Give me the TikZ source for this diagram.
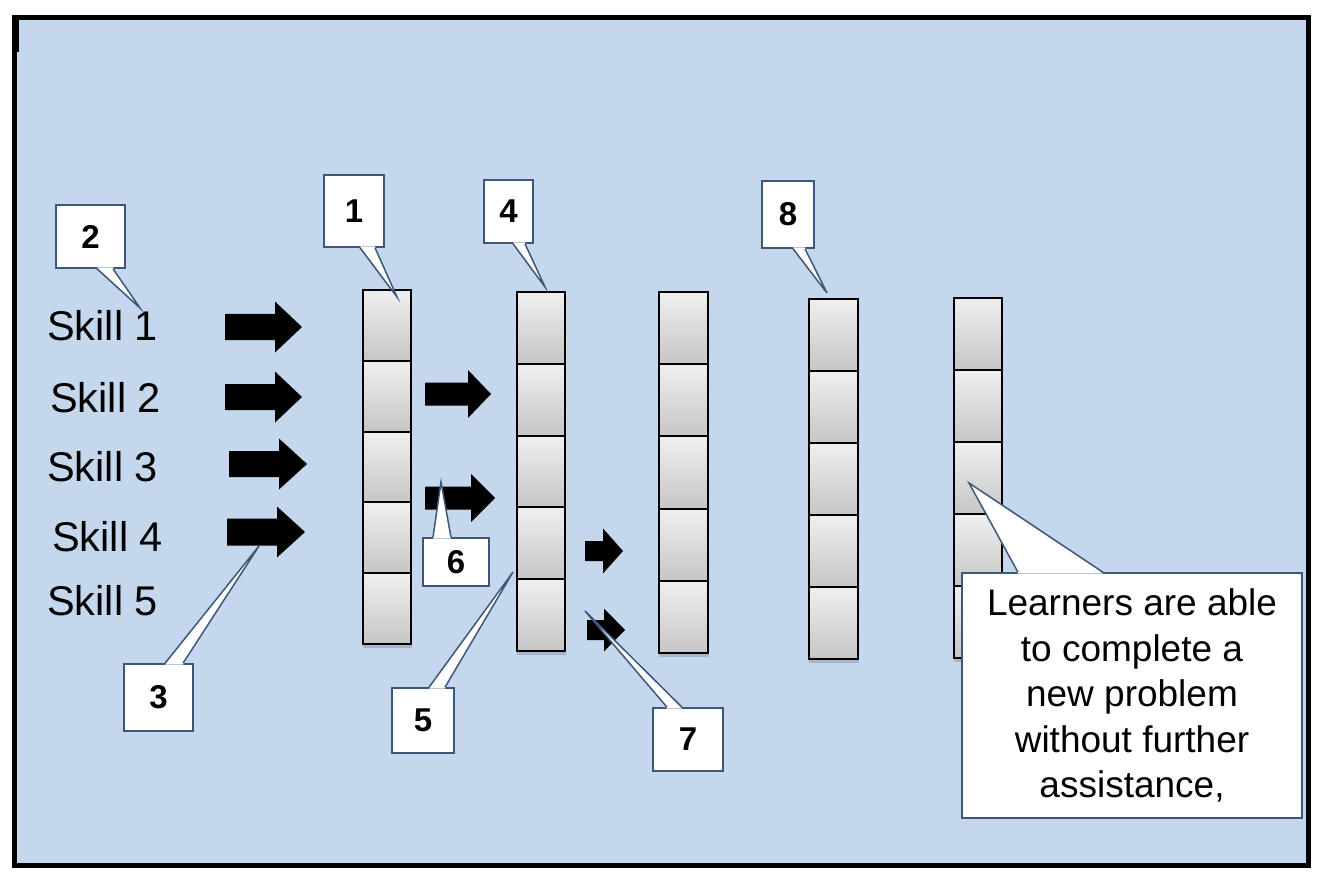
\documentclass[tikz,border=0pt]{standalone}
\usepackage{fontspec}
\setmainfont{Liberation Sans}
\usetikzlibrary{calc}
\definecolor{bgblue}{RGB}{196,215,236}
\definecolor{cbord}{RGB}{62,86,122}
\tikzset{
  cell/.style={draw=black, line width=2pt, top color=gray!12, bottom color=gray!45, inner sep=0pt},
  nbox/.style={draw=cbord, line width=1.5pt, fill=white, inner sep=0pt,
    font=\fontsize{33}{33}\selectfont\bfseries},
  bigbox/.style={draw=cbord, line width=1.5pt, fill=white, inner sep=0pt, align=center,
    font=\fontsize{37}{45.5}\selectfont},
  skill/.style={inner sep=0pt, font=\fontsize{41.5}{41.5}\selectfont},
  ptrline/.style={draw=cbord, line width=1.5pt, line join=miter},
}
% pointer on bottom edge of node #1, base x from #2 to #3, tip #4
\newcommand\ptrS[4]{%
  \fill[white] ($(#2,0 |- #1.south)+(0,-1.3)$) -- (#4) -- ($(#3,0 |- #1.south)+(0,-1.3)$) -- cycle;
  \draw[ptrline] (#2,0 |- #1.south) -- (#4) -- (#3,0 |- #1.south);}
% pointer on top edge
\newcommand\ptrN[4]{%
  \fill[white] ($(#2,0 |- #1.north)+(0,1.3)$) -- (#4) -- ($(#3,0 |- #1.north)+(0,1.3)$) -- cycle;
  \draw[ptrline] (#2,0 |- #1.north) -- (#4) -- (#3,0 |- #1.north);}
% block arrow: x0, yc, xhead, xtip, shaft half, head half
\newcommand\blockarr[6]{%
  \fill (#1,{#2-#5}) -- (#3,{#2-#5}) -- (#3,{#2-#6}) -- (#4,#2) -- (#3,{#2+#6}) -- (#3,{#2+#5}) -- (#1,{#2+#5}) -- cycle;}
\begin{document}
\begin{tikzpicture}[x=1pt,y=-1pt]
\useasboundingbox (0,0) rectangle (1324,882);
\fill[white] (0,0) rectangle (1324,882);
\draw[line width=5pt, fill=bgblue] (14,18) rectangle (1308,865);
\fill (11.5,15.5) rectangle (18.5,52);

% columns of cells
\foreach \n/\xl/\yt/\h/\w in {1/362/289/70.8/48, 2/516/291/71.8/48, 3/658/291/72.2/49, 4/808/298/72/49, 5/953/297/72/48}{
  \fill[black, opacity=0.15] ({\xl+1},{\yt+5*\h}) rectangle ({\xl+\w+2},{\yt+5*\h+5});
  \foreach \i in {1,...,5}{
    \node[cell, minimum width=\w, minimum height=\h, anchor=north west] (k\n\i) at (\xl,{\yt+(\i-1)*\h}) {};
  }
}

% skill labels
\node[skill, anchor=base west] (s1) at (47,341) {Skill 1};
\node[skill, anchor=base west] (s2) at (50,412) {Skill 2};
\node[skill, anchor=base west] (s3) at (47,481) {Skill 3};
\node[skill, anchor=base west] (s4) at (52,551) {Skill 4};
\node[skill, anchor=base west] (s5) at (47,615) {Skill 5};

% block arrows
\blockarr{225}{327}{275}{302}{13}{25.5}
\blockarr{225}{397}{275}{302}{13}{25.5}
\blockarr{229}{464}{279}{307}{13}{25.5}
\blockarr{227}{532}{277}{305}{13.5}{25.5}
\blockarr{425}{394}{468}{491}{11.5}{24}
\blockarr{425}{498}{471}{495}{11.5}{24}
\blockarr{585}{551}{603}{623}{10}{22.5}
\blockarr{587}{630}{604}{625}{10}{21.5}

% pointer tips
\coordinate (t2) at (140,308);
\coordinate (t1) at (397,297);
\coordinate (t4) at (545,287);
\coordinate (t8) at (827,293);
\coordinate (t6) at (441,482);
\coordinate (t5) at (513,572);
\coordinate (t3) at (259,546);
\coordinate (t7) at (585,611);
\coordinate (tb) at (969,483);

% callouts
\node[nbox, minimum width=69, minimum height=63] (c2) at (90.5,236.5) {2};
\ptrS{c2}{97}{113}{t2}
\node[nbox, minimum width=60, minimum height=72] (c1) at (354,211) {1};
\ptrS{c1}{360}{375}{t1}
\node[nbox, minimum width=49, minimum height=63] (c4) at (508.5,211.5) {4};
\ptrS{c4}{513}{525}{t4}
\node[nbox, minimum width=52, minimum height=67] (c8) at (788,214.5) {8};
\ptrS{c8}{793}{805}{t8}
\node[nbox, minimum width=66, minimum height=48] (c6) at (456,562) {6};
\ptrN{c6}{433}{451}{t6}
\node[nbox, minimum width=62, minimum height=65] (c5) at (423,720.5) {5};
\ptrN{c5}{429}{445}{t5}
\node[nbox, minimum width=69, minimum height=67] (c3) at (158.5,697.5) {3};
\ptrN{c3}{165}{183}{t3}
\node[nbox, minimum width=70, minimum height=63] (c7) at (688,739.5) {7};
\ptrN{c7}{667}{682}{t7}
\node[bigbox, minimum width=340, minimum height=245] (cb) at (1132,695.5)
  {Learners are able\\to complete a\\new problem\\without further\\assistance,};
\ptrN{cb}{1018}{1103}{tb}
\end{tikzpicture}
\end{document}
